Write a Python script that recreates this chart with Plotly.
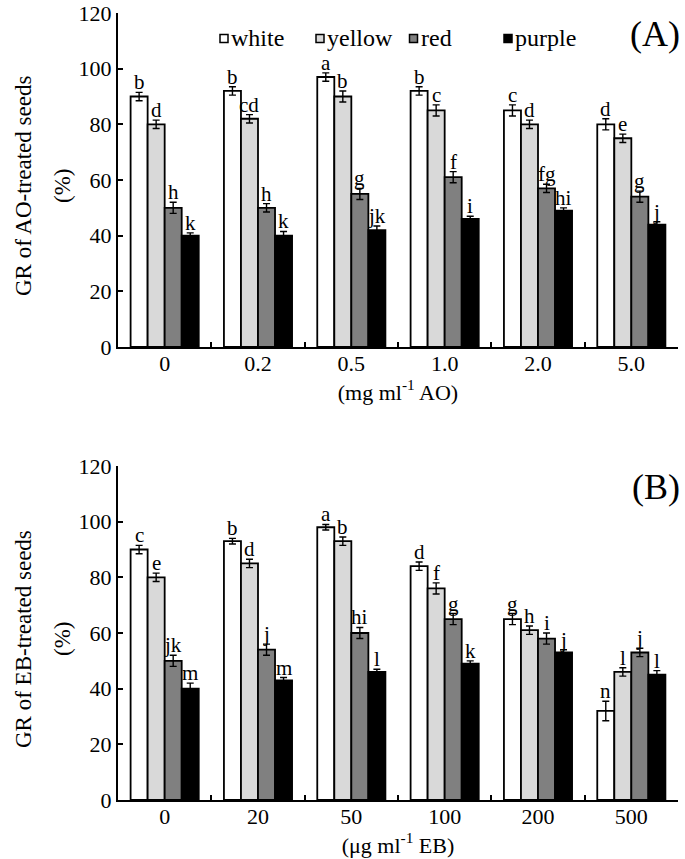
import plotly.graph_objects as go

# ---------------- data ----------------
series_names = ["white", "yellow", "red", "purple"]
series_colors = ["#ffffff", "#d9d9d9", "#808080", "#000000"]

ao_categories = ["0", "0.2", "0.5", "1.0", "2.0", "5.0"]
ao_white = [90, 92, 97, 92, 85, 80]
ao_yellow = [80, 82, 90, 85, 80, 75]
ao_red = [50, 50, 55, 61, 57, 54]
ao_purple = [40, 40, 42, 46, 49, 44]
ao_white_err = [1.5, 1.5, 1.5, 1.5, 2.0, 2.0]
ao_yellow_err = [1.5, 1.5, 2.0, 2.0, 1.5, 1.5]
ao_red_err = [2.0, 1.5, 2.0, 2.0, 1.5, 2.0]
ao_purple_err = [1.0, 1.5, 1.5, 1.0, 1.0, 1.0]
ao_white_lbl = ["b", "b", "a", "b", "c", "d"]
ao_yellow_lbl = ["d", "cd", "b", "c", "d", "e"]
ao_red_lbl = ["h", "h", "g", "f", "fg", "g"]
ao_purple_lbl = ["k", "k", "jk", "i", "hi", "j"]

eb_categories = ["0", "20", "50", "100", "200", "500"]
eb_white = [90, 93, 98, 84, 65, 32]
eb_yellow = [80, 85, 93, 76, 61, 46]
eb_red = [50, 54, 60, 65, 58, 53]
eb_purple = [40, 43, 46, 49, 53, 45]
eb_white_err = [1.5, 1.0, 1.0, 1.5, 2.0, 3.5]
eb_yellow_err = [1.5, 1.5, 1.5, 2.0, 1.5, 1.5]
eb_red_err = [2.0, 2.0, 2.0, 2.0, 2.0, 1.5]
eb_purple_err = [2.0, 1.0, 1.0, 1.0, 1.0, 1.5]
eb_white_lbl = ["c", "b", "a", "d", "g", "n"]
eb_yellow_lbl = ["e", "d", "b", "f", "h", "l"]
eb_red_lbl = ["jk", "j", "hi", "g", "i", "j"]
eb_purple_lbl = ["m", "m", "l", "k", "j", "l"]

y_ticks = [0, 20, 40, 60, 80, 100, 120]

# ---------------- figure ----------------
FONT = "Liberation Serif, Times New Roman, serif"
W, H = 685, 859
ML = 118            # y axis line
X_END = 678         # right end of x axis
Y_TOP = 13          # top of upper panel
Y_BOT = 800         # x axis of lower panel
MR, MT, MB = W - X_END, Y_TOP, H - Y_BOT
PW, PH = W - ML - MR, H - MT - MB

fig = go.Figure()

panels = [
    dict(cats=ao_categories,
         vals=[ao_white, ao_yellow, ao_red, ao_purple],
         errs=[ao_white_err, ao_yellow_err, ao_red_err, ao_purple_err],
         lbls=[ao_white_lbl, ao_yellow_lbl, ao_red_lbl, ao_purple_lbl],
         xa="x", ya="y"),
    dict(cats=eb_categories,
         vals=[eb_white, eb_yellow, eb_red, eb_purple],
         errs=[eb_white_err, eb_yellow_err, eb_red_err, eb_purple_err],
         lbls=[eb_white_lbl, eb_yellow_lbl, eb_red_lbl, eb_purple_lbl],
         xa="x2", ya="y2"),
]

BARGAP = 0.27
n_series = len(series_names)
bw = (1 - BARGAP) / n_series
annotations = []
shapes = []

for p in panels:
    for i, name in enumerate(series_names):
        fig.add_trace(go.Bar(
            x=p["cats"], y=p["vals"][i], name=name,
            marker=dict(color=series_colors[i], line=dict(color="black", width=1.8)),
            error_y=dict(type="data", array=p["errs"][i], color="black",
                         thickness=1.4, width=3.5),
            xaxis=p["xa"], yaxis=p["ya"], showlegend=False,
        ))
        offset = -(1 - BARGAP) / 2 + bw * (i + 0.5)
        for j, lbl in enumerate(p["lbls"][i]):
            annotations.append(dict(
                x=j + offset, y=p["vals"][i][j] + p["errs"][i][j],
                xref=p["xa"], yref=p["ya"], text=lbl, showarrow=False,
                xanchor="center", yanchor="bottom", yshift=-4,
                font=dict(family=FONT, size=21, color="black"),
            ))

top_lo = (Y_BOT - 347) / PH
bot_hi = (Y_BOT - 466) / PH

def xaxis(title):
    return dict(domain=[0, 1], showline=True, linecolor="black", linewidth=2,
                showgrid=False, zeroline=False, automargin=False,
                ticks="inside", ticklen=5, tickwidth=2, tickcolor="black",
                tickson="boundaries", ticklabelstandoff=-4,
                tickfont=dict(family=FONT, size=22, color="black"),
                title=dict(text=title, standoff=0,
                           font=dict(family=FONT, size=22, color="black")))

def yaxis(dom):
    return dict(domain=dom, range=[0, 120], tickvals=y_ticks,
                showline=True, linecolor="black", linewidth=2,
                showgrid=False, zeroline=False, automargin=False,
                ticks="inside", ticklen=5, tickwidth=2, tickcolor="black",
                ticklabeloverflow="allow",
                tickfont=dict(family=FONT, size=22, color="black"))

fig.update_layout(
    width=W, height=H,
    margin=dict(l=ML, r=MR, t=MT, b=MB),
    plot_bgcolor="white", paper_bgcolor="white",
    barmode="group", bargap=BARGAP, bargroupgap=0,
    font=dict(family=FONT, color="black"),
    showlegend=False,
    xaxis=dict(anchor="y", **xaxis("(mg ml<sup>-1</sup> AO)")),
    yaxis=dict(anchor="x", **yaxis([top_lo, 1])),
    xaxis2=dict(anchor="y2", **xaxis("(\u03bcg ml<sup>-1</sup> EB)")),
    yaxis2=dict(anchor="x2", **yaxis([0, bot_hi])),
)

# legend (drawn in the top panel, symbol hugging its label)
legend_sym_px = [224, 320, 413.5, 508]
legend_y = (Y_BOT - 38.5) / PH
for name, color, sx in zip(series_names, series_colors, legend_sym_px):
    xc = (sx - ML) / PW
    shapes.append(dict(type="rect", xref="paper", yref="paper",
                       x0=-4, x1=4, y0=-4, y1=4,
                       xsizemode="pixel", ysizemode="pixel",
                       xanchor=xc, yanchor=legend_y,
                       fillcolor=color, line=dict(color="black", width=1.5)))
    annotations.append(dict(x=xc, y=legend_y, xref="paper", yref="paper",
                            text=name, showarrow=False, xanchor="left",
                            yanchor="middle", xshift=5,
                            font=dict(family=FONT, size=24, color="black")))

# y-axis titles and panel labels
for lo, hi, txt in [(top_lo, 1, "GR of AO-treated seeds"), (0, bot_hi, "GR of EB-treated seeds")]:
    mid = (lo + hi) / 2
    annotations.append(dict(x=0, y=mid, xref="paper", yref="paper", text=txt,
                            showarrow=False, textangle=-90, xanchor="center",
                            yanchor="middle", xshift=-95, yshift=-6,
                            font=dict(family=FONT, size=23, color="black")))
    annotations.append(dict(x=0, y=mid, xref="paper", yref="paper", text="(%)",
                            showarrow=False, textangle=-90, xanchor="center",
                            yanchor="middle", xshift=-56, yshift=-6,
                            font=dict(family=FONT, size=23, color="black")))

for ytop, lbl in [(1, "(A)"), (bot_hi, "(B)")]:
    annotations.append(dict(x=1, y=ytop, xref="paper", yref="paper", text=lbl,
                            showarrow=False, xanchor="right", yanchor="middle",
                            xshift=4, yshift=-21,
                            font=dict(family=FONT, size=36, color="black")))

fig.update_layout(annotations=annotations, shapes=shapes)
fig.write_html("out.html",
               config={"displayModeBar": False},
               post_script="document.body.style.margin='0';"
                           "document.body.style.overflow='hidden';")
